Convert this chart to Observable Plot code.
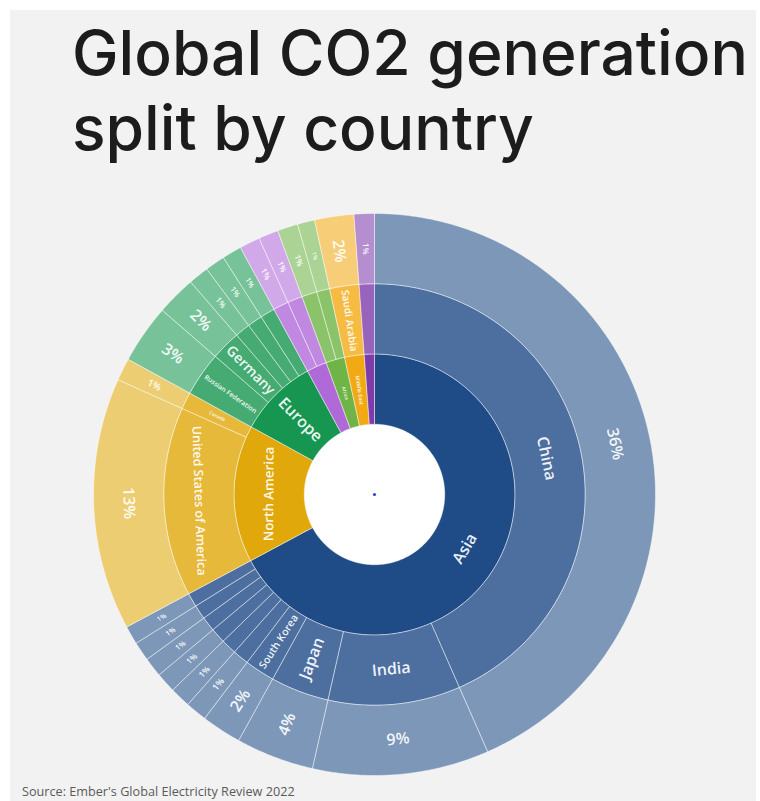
<!DOCTYPE html>
<html><head><meta charset="utf-8">
<script src="https://cdn.jsdelivr.net/npm/d3@7"></script>
<script src="https://cdn.jsdelivr.net/npm/@observablehq/plot@0.6"></script>
<style>
html,body{margin:0;padding:0;background:#fff;}
#page{position:relative;width:760px;height:801px;overflow:hidden;background:#fff;}
#card{position:absolute;left:10px;top:10px;width:746px;height:791px;background:#f2f2f2;}
.tl{position:absolute;left:72px;font-family:Inter,"Liberation Sans",sans-serif;font-weight:500;color:#1c1c1c;white-space:nowrap;line-height:1;}
#chart{position:absolute;left:0;top:204px;}
#caption{position:absolute;left:22px;font-family:"Open Sans",sans-serif;color:#5a5a5a;white-space:nowrap;line-height:1;}
</style></head>
<body><div id="page"><div id="card"></div>
<div class="tl" id="t1">Global CO2 generation</div>
<div class="tl" id="t2">split by country</div>
<div id="chart"></div>
<div id="caption">Source: Ember's Global Electricity Review 2022</div>
</div>
<script>
// ---- data ----
const continents = ["Asia", "North America", "Europe", "Latin America and Caribbean", "Africa", "Middle East", "Oceania"];
const countries = ["China", "India", "Japan", "South Korea", "Indonesia", "Iran", "Taiwan", "Vietnam", "Kazakhstan", "Malaysia",
  "United States of America", "Canada",
  "Russian Federation", "Germany", "Poland", "Turkey", "Ukraine",
  "Mexico", "Brazil",
  "South Africa", "Egypt",
  "Saudi Arabia",
  "Australia"];
const countryRegion = ["Asia", "Asia", "Asia", "Asia", "Asia", "Asia", "Asia", "Asia", "Asia", "Asia",
  "North America", "North America",
  "Europe", "Europe", "Europe", "Europe", "Europe",
  "Latin America and Caribbean", "Latin America and Caribbean",
  "Africa", "Africa",
  "Middle East",
  "Oceania"];
const values = [36.8, 8.6, 3.8, 1.95, 1.05, 1.0, 0.98, 0.95, 0.93, 0.9,
  12.3, 1.1,
  2.87, 1.93, 0.99, 0.97, 0.95,
  1.0, 0.97,
  1.0, 0.84,
  1.91,
  0.99];
const shareLabels = ["36%", "9%", "4%", "2%", "1%", "1%", "1%", "1%", "1%", "1%",
  "13%", "1%",
  "3%", "2%", "1%", "1%", "1%",
  "1%", "1%",
  "1%", "1%",
  "2%",
  "1%"];

// ---- styles ----
const palette = ["#1f4b87", "#e0a80a", "#169650", "#b06ad8", "#6eb446", "#f2aa14", "#7d3caa"];
const lighten = [0, 0.2, 0.42];
const R = 281;

// title / caption sizing
const cv = document.createElement("canvas").getContext("2d");
function em(text, font) { cv.font = font.replace("SIZE", "100px"); return cv.measureText(text).width / 100; }
const tFont = '500 SIZE Inter';
const tSize = 676 / em("Global CO2 generation", tFont);
const t1 = document.getElementById("t1"), t2 = document.getElementById("t2");
t1.style.fontSize = t2.style.fontSize = tSize + "px";
const ascent = 0.969, descent = 0.242;
const bl = (1 - (ascent + descent)) / 2 + ascent;
t1.style.top = (76 - bl * tSize) + "px";
t2.style.top = (151 - bl * tSize) + "px";
const cap = document.getElementById("caption");
const cSize = 273 / em("Source: Ember's Global Electricity Review 2022", '400 SIZE "Open Sans"');
cap.style.fontSize = cSize + "px";
cap.style.top = (796 - ((1 - 1.362) / 2 + 1.069) * cSize) + "px";

// ---- hierarchy ----
const tree = {name: "World", children: continents.map(c => ({
  name: c,
  children: countries.map((k, i) => ({k, i})).filter(o => countryRegion[o.i] === c)
    .map(o => ({name: o.k, children: [{name: shareLabels[o.i], value: values[o.i]}]}))
}))};
const root = d3.hierarchy(tree).sum(d => d.children ? 0 : d.value);
d3.partition().size([2 * Math.PI, R])(root);

function regionOf(n) { return n.depth === 0 ? null : n.ancestors().find(a => a.depth === 1).data.name; }
function colorOf(n) {
  if (n.depth === 0) return "#ffffff";
  const base = palette[continents.indexOf(regionOf(n))];
  return d3.interpolateRgb(base, "#ffffff")(lighten[n.depth - 1]);
}

const nodes = root.descendants();
const pts = [];
nodes.forEach((n, id) => {
  const steps = Math.max(2, Math.ceil((n.x1 - n.x0) / (Math.PI / 360)));
  const fill = colorOf(n);
  const ring = [];
  for (let i = 0; i <= steps; i++) { const a = n.x0 + (n.x1 - n.x0) * i / steps; ring.push([n.y1 * Math.sin(a), n.y1 * Math.cos(a)]); }
  for (let i = steps; i >= 0; i--) { const a = n.x0 + (n.x1 - n.x0) * i / steps; ring.push([n.y0 * Math.sin(a), n.y0 * Math.cos(a)]); }
  ring.push(ring[0]);
  ring.forEach(p => pts.push({id, x: p[0], y: p[1], fill, depth: n.depth}));
});

// ---- labels (auto-fit like a sunburst's inside text) ----
const lFont = '600 SIZE "Open Sans"';
const labels = [];
nodes.filter(n => n.depth > 0).forEach(n => {
  const text = n.data.name;
  const d = n.x1 - n.x0, rm = (n.y0 + n.y1) / 2, ringW = n.y1 - n.y0, arc = d * rm;
  const e = em(text, lFont);
  const tang = arc > 1.4 * ringW;
  let fs;
  if (tang) fs = Math.min(16, (arc - 10) / e, ringW - 10);
  else fs = Math.min(16, (ringW - 8) / e, 0.9 * (arc - 9));
  if (fs < 4.5) return;
  const am = (n.x0 + n.x1) / 2, deg = am * 180 / Math.PI;
  let rot;
  if (tang) rot = (deg > 90 && deg < 270) ? deg - 180 : deg;
  else rot = deg < 180 ? deg - 90 : deg - 270;
  labels.push({text, x: rm * Math.sin(am), y: rm * Math.cos(am), rot, fs});
});

const H = 580, cy = 494 - 204;
const chart = Plot.plot({
  width: 760, height: H,
  margin: 0,
  x: {domain: [-374, 760 - 374], axis: null},
  y: {domain: [-(H - cy), cy], axis: null},
  color: {type: "identity"},
  style: {background: "transparent", overflow: "visible"},
  marks: [
    Plot.line(pts, {x: "x", y: "y", z: "id", fill: "fill", stroke: "#ffffff", strokeOpacity: 0.45, strokeWidth: 1, strokeLinejoin: "round"}),
    Plot.text(labels, {x: "x", y: "y", text: "text", rotate: "rot", fontSize: "fs", fill: "#ffffff", fillOpacity: 0.93,
      fontFamily: "Open Sans", fontWeight: 600, textAnchor: "middle", lineAnchor: "middle"}),
    Plot.dot([root], {x: n => n.y0 * Math.sin(n.x0), y: n => n.y0 * Math.cos(n.x0), r: 1.6, fill: "#2b45d0", stroke: "none"})
  ]
});
document.getElementById("chart").appendChild(chart);
</script>
</body></html>
